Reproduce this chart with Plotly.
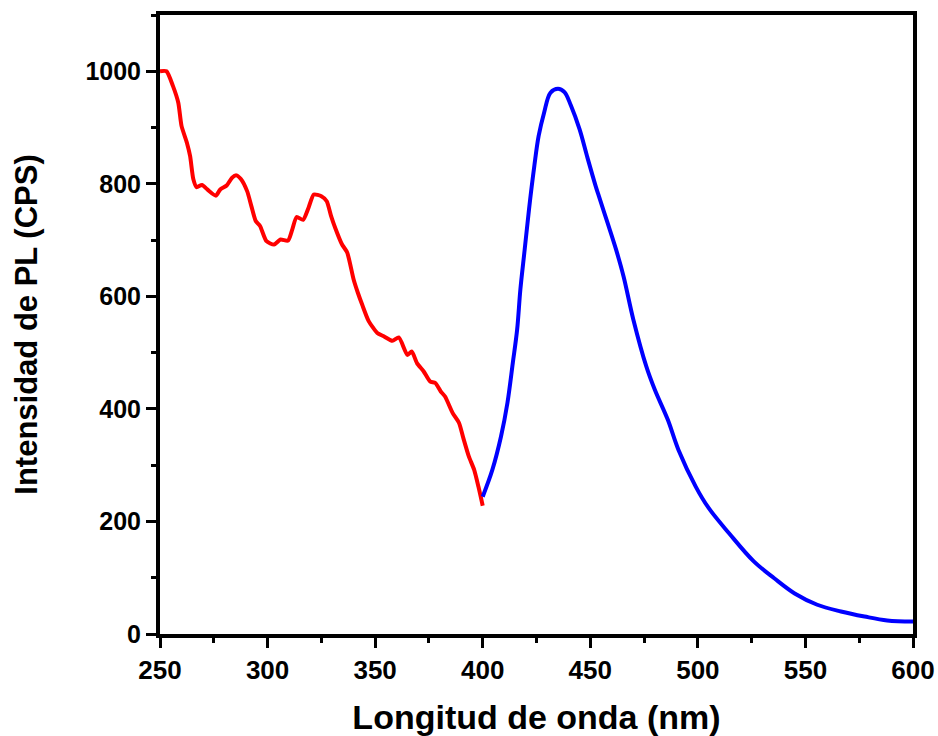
import plotly.graph_objects as go

# Excitation spectrum (red) and emission spectrum (blue)
red_x = [250, 253, 256, 258.5, 260, 262.5, 264, 265.5, 267, 269.5, 272, 276, 278, 281,
         283.5, 285.5, 287.5, 290.5, 292.5, 294.5, 296.5, 299.5, 303, 306, 309.5, 311.5,
         313.5, 316.5, 319, 321.5, 325, 327.5, 329.5, 331.5, 334.5, 337, 340, 342, 344,
         347, 351, 354, 358, 361, 365, 367, 369.5, 372.5, 375.5, 378, 380.5, 382.5, 386,
         389, 391, 393.5, 396, 398, 400]
red_y = [1000, 1000, 974, 944, 903, 873, 849, 808, 794, 798, 790, 779, 790, 797,
         811, 815, 809, 787, 760, 734, 725, 698, 692, 701, 699, 719,
         741, 736, 757, 781, 778, 769, 743, 721, 693, 678, 630, 606, 585,
         556, 535, 529, 521, 527, 496, 502, 481, 467, 449, 446, 431, 422, 393,
         375, 348, 316, 292, 262, 228]

blue_x = [400, 404.5, 408.5, 411.5, 414, 416, 417.5, 419.5, 421.5, 424, 426, 428.5,
          431.5, 435, 438, 441, 445, 448.5, 452.5, 454, 458, 462, 465.5, 470, 476, 480,
          486, 491, 499, 505, 514.5, 526, 535.5, 545, 555.5, 566.5, 577.5, 588, 600]
blue_y = [244, 292, 351, 411, 482, 541, 612, 683, 754, 832, 885, 926,
          962, 969, 963, 939, 897, 849, 796, 778, 731, 683, 635, 559, 476, 434,
          381, 327, 262, 224, 179, 129, 99, 72, 52, 40, 31, 24, 22]

x_ticks = [250, 300, 350, 400, 450, 500, 550, 600]
y_ticks = [0, 200, 400, 600, 800, 1000]

font_family = "Arial, Liberation Sans, sans-serif"

fig = go.Figure()
fig.add_trace(go.Scatter(x=red_x, y=red_y, mode="lines",
                         line=dict(color="#ff0000", width=4, shape="spline", smoothing=0.6),
                         showlegend=False))
fig.add_trace(go.Scatter(x=blue_x, y=blue_y, mode="lines",
                         line=dict(color="#0000ff", width=4, shape="spline", smoothing=1.0),
                         showlegend=False))

axis_common = dict(
    showline=True, linecolor="black", linewidth=4, mirror=True,
    showgrid=False, zeroline=False, automargin=False,
    ticks="outside", ticklen=10, tickwidth=3, tickcolor="black",
)

fig.update_xaxes(
    range=[250, 600], tickvals=x_ticks, ticktext=[str(v) for v in x_ticks],
    tickfont=dict(family=font_family, size=26, color="black", weight="bold"),
    minor=dict(dtick=25, tick0=250, ticks="outside", ticklen=5, tickwidth=3, tickcolor="black"),
    title=dict(text="Longitud de onda (nm)", standoff=22,
               font=dict(family=font_family, size=34, color="black", weight="bold")),
    **axis_common,
)
fig.update_yaxes(
    range=[0, 1100], tickvals=y_ticks, ticktext=[str(v) for v in y_ticks],
    tickfont=dict(family=font_family, size=25, color="black", weight="bold"),
    minor=dict(dtick=100, tick0=0, ticks="outside", ticklen=5, tickwidth=3, tickcolor="black"),
    title=dict(text="Intensidad de PL (CPS)", standoff=40,
               font=dict(family=font_family, size=31, color="black", weight="bold")),
    **axis_common,
)

fig.update_layout(
    width=938, height=736,
    margin=dict(l=160, r=25, t=15, b=102),
    paper_bgcolor="white", plot_bgcolor="white",
)

fig.write_html("out.html")
